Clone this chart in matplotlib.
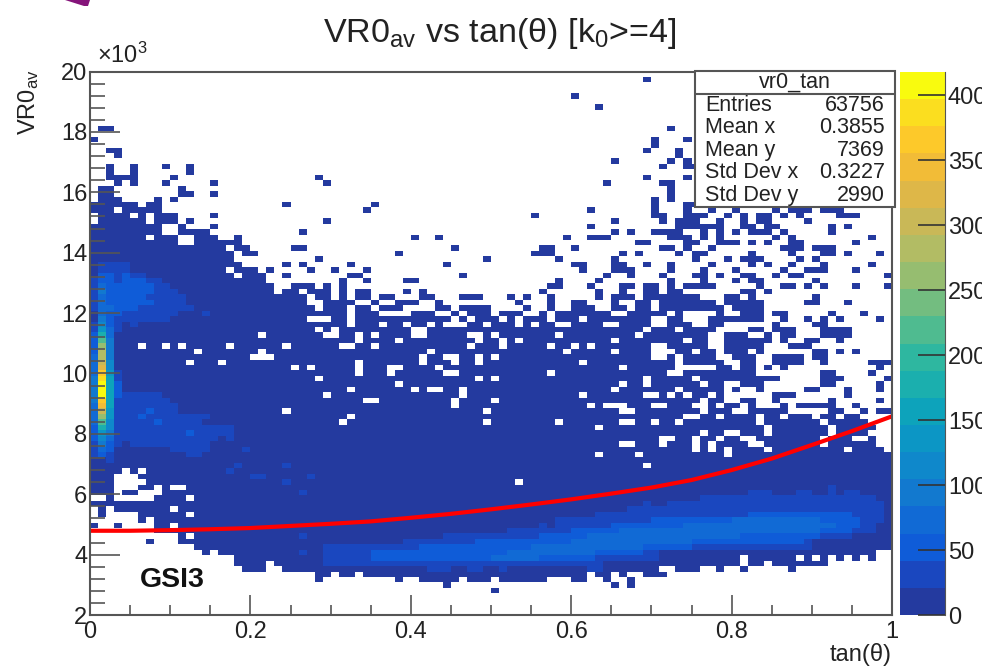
import numpy as np
import matplotlib
matplotlib.use('Agg')
from matplotlib import pyplot as plt
from matplotlib.colors import ListedColormap, BoundaryNorm
from matplotlib.patches import Rectangle, Polygon

plt.rcParams['font.family'] = ['Liberation Sans', 'DejaVu Sans']
plt.rcParams['mathtext.default'] = 'regular'

W, H = 982, 667

x_ticks = [0, 0.2, 0.4, 0.6, 0.8, 1]
x_tick_labels = ['0', '0.2', '0.4', '0.6', '0.8', '1']
y_ticks = [2000, 4000, 6000, 8000, 10000, 12000, 14000, 16000, 18000, 20000]
y_tick_labels = ['2', '4', '6', '8', '10', '12', '14', '16', '18', '20']
z_ticks = [0, 50, 100, 150, 200, 250, 300, 350, 400]
z_max = 418

stat_names = ['Entries', 'Mean x', 'Mean y', 'Std Dev x', 'Std Dev y']
stat_values = ['63756', '0.3855', '7369', '0.3227', '2990']

band_colors = ['#243a9f', '#1a47bf', '#0f5cd8', '#116ad5', '#1279cf', '#0f88cb', '#0c96c5',
               '#0da3bb', '#1bafae', '#2eb7a0', '#4fbb90', '#73bd80', '#96bd70', '#b2bc64',
               '#c9b857', '#deb748', '#f2bc37', '#fdc92a', '#fbde1f', '#f9fb0e']

fit_x = [0, .05, .1, .15, .2, .25, .3, .35, .4, .45, .5, .55, .6, .65, .7, .75, .8, .85, .9, .95, 1]
fit_y = [4790, 4790, 4810, 4840, 4880, 4950, 5020, 5100, 5220, 5350, 5500, 5660, 5830, 6020,
         6220, 6470, 6800, 7180, 7630, 8090, 8580]

# filled bins, row number -> columns
filled_rows = {
    98: '69', 95: '60', 93: '63', 89: '1-2 72', 87: '0 70 74', 86: '70', 85: '2-3 69 73', 84: '3 73',
    83: '65 72 74', 82: '2 5 9 12 71 74-75', 81: '2 5 12', 80: '2-5 10 28 69 74',
    79: '3 5 9 15 29 64 71-72', 78: '1-2 11 72', 77: '1-2 11-12 15 72', 76: '1-3 8 10 70 72',
    75: '0-5 7-8 24 35 70 74-75',
    74: '0-2 4-6 7-8 34 62 70 74 77 80 85 87-89 91-93',
    73: '1-4 6 8-10 15 55 70-71 74-76 79 81 83-84 86 88 93-95',
    72: '1-6 8-10 12 29 65 71 73-75 78 81 83-84 89',
    71: '0-8 11 15 62 73-78 81-82 84-85 92 94',
    70: '0-8 11-14 26 65 67 70-73 76 78 80 82-84 86 92',
    69: '0-6 8-10 13-15 18 40 43 59 62-64 72-74 76 78 85 87 97',
    68: '0-10 13-18 68-69 74-75 78-80 82 84 87-88 95',
    67: '0-16 18-19 25-26 45 56-57 60 71-72 74 77 86-88 90-92',
    66: '0-17 19-20 38 55-57 66 68 73 75-76 82 87 91-92 94 98',
    65: '0-17 28 49 58 65 75 79 81-83 88 90',
    64: '0-18 24 26 32 44 60-61 65-66 69 72 77 82 84 87 91 97',
    63: '0-16 18-20 22 27 30 34 61 65-67 72 76 80 86 89-91 95',
    62: '0-17 19-21 24 32-33 46 64 67 71 75-76 78 81-82 85 87-88 99',
    61: '0-21 31 34 39-40 58 63 72 76 80 82-83 90',
    60: '0-22 25-27 29 31 57-58 62 66-67 69-70 72 74-77 83 86-87 89 91 95 99',
    59: '0-22 24-25 27-29 31 33-34 39 41 56 63 66 69-70 72-73 81-82 84',
    58: '0-26 28-29 31 33-34 36-37 41-42 46-48 52 54 57 63 65-67 69-75 79-80 82 90',
    57: '0-26 29-32 35 38-40 43 53 57 60-61 65 68-69 71-77 79-83 89-90 94',
    56: '0-27 29-31 33-34 36-38 43-44 46-49 54 57 60-62 65-66 68-69 71-78 80-83',
    55: '0-28 29-31 33-35 40-42 45 47-49 51-53 56 58-64 67-71 73 78 81-83 85-86 92 96',
    54: '0-26 30-31 33-44 46 48-50 52 54-56 58-60 62-69 72-73 77-83 86 89 91 93 98',
    53: '0-31 33-35 37-38 40-41 43 47-48 50-52 54 56-57 60-63 66-69 72-74 77-78 85 90-91',
    52: '0-27 29 31-39 42-68 70-72 74-77 82-83 85-87 91-94',
    51: '0-20 22-28 31-32 34 36-39 42-46 49 51-57 59-67 69-76 79-81 84 86-87 91-94',
    50: '0-32 34-37 39-47 49-50 52 54-64 66-73 75-76 79-84 86 89-90 93',
    49: '0-5 7-8 10 12-16 18-23 25-30 33-34 36-46 48-50 52-56 58-59 61 63-69 72-76 79-83 87-89',
    48: '0-12 14-20 22-41 43-58 60-64 66-69 73-74 76-77 79-81 83 90-91 93 95',
    47: '0-19 23-40 42-43 46-47 49 51-69 72 74-77 80-82 85-88 90-91',
    46: '0-11 13-15 17-32 34-40 42-44 46-47 49-60 62-72 74-78 81-82 85-88 91 97-99',
    45: '0-24 26 28-32 34-36 39-42 44-65 67-72 78-79 81-82 84 86 98',
    44: '0-32 34-36 38-43 46-56 58-71 74-82 91-92 97',
    43: '0-27 29-47 49 51-68 70-74 76-85 91-93 99',
    42: '0-37 39-65 67-68 70-75 77-78 81-83 91-92 98',
    41: '0-31 33-39 41 44-45 47-64 66-72 74-78 80 83 89-90 94 98',
    40: '0-28 30-45 47-60 62-68 71 73 75-76 78 85-87 94',
    39: '0-33 36-44 46-49 51-75 77-78 81-82 85 92 98',
    38: '0-44 46-61 63 67-69 72-74 77 79-80 82 86 88-92 95',
    37: '0-23 25-48 50-65 68-75 77-79 82-86 92-93 96 98-99',
    36: '0-31 33-73 76-77 79-82 84-85 87-89 91-92 94-95',
    35: '0-30 32-48 50-57 59-65 68-69 71-72 74-82 84-90 92-96',
    34: '0-62 64-83 85-91 93-97',
    33: '0-75 77-78 81-83 85-91 93-96',
    32: '0-70 73-74 76-77 79-80 83-90 92-94 97',
    31: '0-65 68-70 72-74 76 78-81 84-90 92-97',
    30: '0-74 76 78 80-83 85-93 95-98',
    29: '0-62 64-67 69-78 80-99',
    28: '0-99', 27: '0-68 70-99', 26: '0-3 5 7-99', 25: '0-2 6-99', 24: '0-2 7-52 54-99',
    23: '0-2 6-7 9 12-99', 22: '0-2 4-5 9-99', 21: '2 8-11 13-99', 20: '0-99',
    19: '1 3-9 11-99', 18: '1 6-11 13-99', 17: '6 8-99', 16: '0 3 8-9 11-99', 15: '8-99',
    14: '11 13-99', 13: '7 11-99', 12: '13-99', 11: '14 16-97',
    10: '18-80 82-87 89 91 93 95 97', 9: '18-21 23-80 82-83 85-91',
    8: '19-21 24-70 73-75 78 81 87', 7: '28-29 31-32 34-61 63-64 66 69-71',
    6: '28 38 41-45 47-49 51-56 60-61 64 67', 5: '44 65 67', 4: '50',
}

# bins with more counts, same form
counts_30 = {
    65: '2', 64: '1-4', 63: '1-4', 62: '1-6', 61: '0-8', 60: '0-9', 59: '0-10', 58: '1-11', 57: '1-11',
    56: '1-12', 55: '1-10 14', 54: '1-9', 53: '1-3 5', 52: '1-3',
    41: '3', 40: '3-8', 39: '3-9', 38: '3-10', 37: '3-10', 36: '3-14', 35: '3-13', 34: '3-17',
    33: '3-17', 32: '3-15 17', 31: '5-14', 30: '10-14 19', 29: '12-13', 27: '18 24', 26: '17',
    25: '20-21 27', 24: '24', 22: '26', 14: '26', 11: '26',
}
counts_50 = {
    62: '2-4', 61: '1-6', 60: '1-7', 59: '1-7', 58: '1-6', 57: '1-7', 56: '1-5',
    37: '7', 36: '6', 35: '8', 33: '12',
    10: '35-62', 11: '35-68', 12: '41-74', 13: '48-88', 14: '56-90', 15: '60-94', 16: '65-95',
    17: '70-95', 18: '82-94',
}
counts_70 = {
    60: '1-3', 59: '1-3', 58: '1-3',
    10: '50-55', 11: '52-62', 12: '55-68', 13: '60-74', 14: '62-80', 15: '66-90', 16: '74-92',
    17: '80-90',
}
counts_90 = {60: '2', 59: '2-3'}

# lower band, columns 29..99
band_col_first = 29
band_top = [12, 12, 12, 12, 12, 12, 12, 12, 12, 12, 13, 13, 13, 13, 13, 14, 14, 14, 14, 14, 14, 14, 14,
            15, 15, 15, 15, 16, 15, 17, 17, 17, 17, 17, 18, 18, 18, 18, 19, 19, 20, 19, 19, 20, 20, 20, 20,
            21, 21, 21, 21, 21, 21, 22, 22, 22, 21, 21, 21, 22, 22, 21, 21, 23, 21, 22, 22, 21, 21, 20, 18]
band_bottom = [9, 9, 9, 9, 9, 9, 9, 9, 9, 9, 9, 9, 9, 8, 8, 8, 9, 9, 8, 8, 9, 9, 8, 9, 9, 9, 9, 9, 9, 9, 9, 9,
               9, 8, 8, 10, 10, 10, 10, 10, 10, 10, 12, 12, 12, 12, 12, 12, 12, 12, 12, 12, 12, 12, 12, 12,
               12, 12, 12, 12, 12, 14, 14, 14, 14, 14, 15, 15, 15, 17, 19]

# bright column at small tan, rows 28..66
core_row_first = 28
core_col0 = [10, 25, 30, 35, 45, 55, 60, 65, 75, 75, 80, 85, 90, 95, 95, 90, 80, 70, 70, 65, 60, 55, 50, 45,
             30, 25, 15, 20, 30, 30, 30, 35, 30, 25, 15, 10, 10, 10, 10]
core_col1 = [15, 50, 70, 90, 110, 140, 170, 220, 260, 310, 340, 370, 400, 410, 400, 390, 360, 330, 300, 290,
             280, 260, 210, 170, 130, 110, 90, 80, 70, 70, 70, 90, 80, 60, 50, 40, 30, 20, 10]
core_col2 = [25, 40, 55, 60, 70, 85, 105, 125, 135, 145, 150, 155, 160, 165, 160, 150, 130, 115, 110, 100, 95,
             90, 85, 80, 70, 60, 55, 60, 65, 60, 60, 60, 55, 50, 45, 40, 25, 20, 10]
core_col3 = [10, 10, 20, 25, 28, 28, 30, 35, 35, 40, 40, 40, 45, 55, 50, 35, 25, 20, 15, 15, 15, 15, 15, 15, 25,
             25, 30, 45, 50, 50, 50, 55, 50, 40, 35, 30, 25, 10, 10]


def span_cols(text):
    cols = []
    for part in text.split():
        if '-' in part:
            a, b = part.split('-')
            cols.extend(range(int(a), int(b) + 1))
        else:
            cols.append(int(part))
    return cols


counts = np.zeros((100, 100))
for row, text in filled_rows.items():
    counts[row, span_cols(text)] = 10
for c, (lo, hi) in enumerate(zip(band_bottom, band_top)):
    counts[lo:hi + 1, band_col_first + c] = 30
for value, table in [(30, counts_30), (50, counts_50), (70, counts_70), (90, counts_90)]:
    for row, text in table.items():
        counts[row, span_cols(text)] = value
for c, col in enumerate([core_col0, core_col1, core_col2, core_col3]):
    counts[core_row_first:core_row_first + len(col), c] = col

x_edges = np.linspace(0, 1, 101)
y_edges = np.linspace(2000, 20000, 101)
z_edges = np.linspace(0, z_max, len(band_colors) + 1)
cmap = ListedColormap(band_colors)
norm = BoundaryNorm(z_edges, cmap.N)


def box(x0, y0, x1, y1):
    return [x0 / W, 1 - y1 / H, (x1 - x0) / W, (y1 - y0) / H]


def ftext(x, y, s, **kw):
    fig.text(x / W, 1 - y / H, s, zorder=7, **kw)


fig = plt.figure(figsize=(W / 100, H / 100), dpi=100)
edge = '#555555'
ink = '#222222'

ax = fig.add_axes(box(90, 71.5, 892, 615))
ax.pcolormesh(x_edges, y_edges, np.ma.masked_equal(counts, 0), cmap=cmap, norm=norm, linewidth=0)
ax.plot(fit_x, fit_y, color='#ff0000', lw=3, solid_capstyle='butt')
ax.set_xlim(0, 1)
ax.set_ylim(2000, 20000)
for s in ax.spines.values():
    s.set_color(edge)
    s.set_linewidth(1.5)
ax.set_xticks(x_ticks, x_tick_labels, fontsize=17, color=ink)
ax.set_yticks(y_ticks, y_tick_labels, fontsize=17, color=ink)
ax.set_xticks(np.arange(0, 1.001, 0.05), minor=True)
ax.set_yticks(np.arange(2000, 20001, 400), minor=True)
ax.tick_params(axis='x', which='major', direction='in', length=14.4, width=1.2, color=edge, pad=4)
ax.tick_params(axis='x', which='minor', direction='in', length=7.2, width=1.2, color=edge)
ax.tick_params(axis='y', which='major', direction='in', length=21.6, width=1.2, color=edge, pad=2)
ax.tick_params(axis='y', which='minor', direction='in', length=10.8, width=1.2, color=edge)

cax = fig.add_axes(box(900, 72, 945, 615))
cax.pcolormesh([0, 1], z_edges, (z_edges[:-1] + z_edges[1:]).reshape(-1, 1) / 2, cmap=cmap, norm=norm)
cax.set_xticks([])
cax.set_ylim(0, z_max)
cax.yaxis.tick_right()
cax.set_yticks(z_ticks, [str(z) for z in z_ticks], fontsize=17, color=ink)
cax.tick_params(axis='y', direction='in', length=19.5, width=1.2, color='#333333', pad=2)
for s in cax.spines.values():
    s.set_visible(False)
cax.spines['right'].set_visible(True)
cax.spines['right'].set_color(edge)

ftext(500, 42, 'VR0$_{av}$ vs tan(θ) [k$_{0}$>=4]', fontsize=24.6, ha='center', va='baseline', color=ink)
ftext(97, 63, '×10$^{3}$', fontsize=17, ha='left', va='baseline', color=ink)
ftext(41, 135, 'VR0$_{av}$', fontsize=17, rotation=90, ha='right', va='bottom', color=ink)
ftext(892, 661, 'tan(θ)', fontsize=17, ha='right', va='baseline', color=ink)
ftext(140, 587, 'GSI3', fontsize=20.5, fontweight='bold', ha='left', va='baseline', color='#111111')

# stats box
fig.add_artist(Rectangle((695 / W, 1 - 207 / H), 200 / W, 136 / H, transform=fig.transFigure,
                         facecolor='white', edgecolor=edge, lw=1.5, zorder=6))
fig.add_artist(Polygon([(695 / W, 1 - 94 / H), (895 / W, 1 - 94 / H)], closed=False,
                       transform=fig.transFigure, edgecolor=edge, lw=1.5, zorder=6))
ftext(795, 88, 'vr0_tan', fontsize=15.5, ha='center', va='baseline', color=ink)
for i, (name, value) in enumerate(zip(stat_names, stat_values)):
    y = 111 + i * 22.4
    ftext(705, y, name, fontsize=15.5, ha='left', va='baseline', color=ink)
    ftext(885, y, value, fontsize=15.5, ha='right', va='baseline', color=ink)

# corner of a shape cut off by the crop
fig.add_artist(Polygon([(65 / W, 1), (90 / W, 1), (88 / W, 1 - 6 / H), (84 / W, 1 - 6 / H)],
                       transform=fig.transFigure, facecolor='#85147a', edgecolor='none'))

fig.savefig('out.png', dpi=100)
